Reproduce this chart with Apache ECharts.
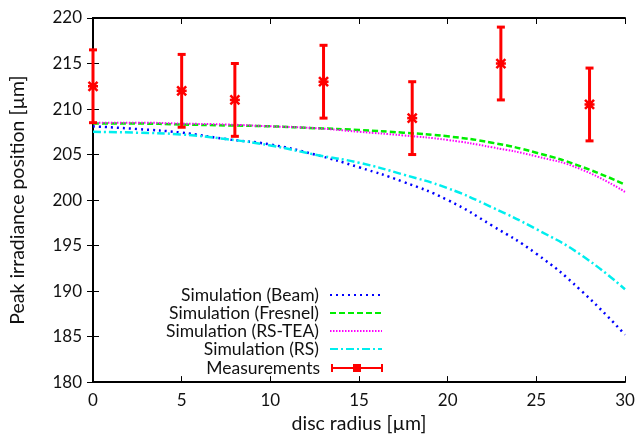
<!DOCTYPE html>
<html>
<head>
<meta charset="utf-8">
<script src="https://cdn.jsdelivr.net/npm/echarts@6/dist/echarts.min.js"></script>
<style>
  html, body { margin: 0; padding: 0; background: #fff; }
  #chart { width: 638px; height: 439px; }
</style>
</head>
<body>
<div id="chart"></div>
<script>
// disc radius samples for the simulation curves
const radius = [0, 2.5, 5, 7.5, 10, 12.5, 15, 17.5, 20, 22.5, 25, 27.5, 30]
const beam = [208.1, 207.8, 207.4, 206.7, 206.1, 205.0, 203.6, 202.0, 200.0, 197.2, 194.1, 190.1, 185.2]
const fresnel = [208.4, 208.4, 208.3, 208.2, 208.1, 207.9, 207.7, 207.4, 207.0, 206.3, 205.2, 203.7, 201.7]
const rsTea = [208.5, 208.5, 208.4, 208.3, 208.1, 207.9, 207.5, 207.1, 206.6, 205.8, 204.8, 203.4, 200.9]
const rs = [207.5, 207.4, 207.2, 206.7, 206.0, 205.0, 204.1, 202.8, 201.3, 199.2, 196.8, 194.0, 190.2]

// measurements with error range
const measX = [0, 5, 8, 13, 18, 23, 28]
const measY = [212.5, 212, 211, 213, 209, 215, 210.5]
const measLo = [208.5, 208, 207, 209, 205, 211, 206.5]
const measHi = [216.5, 216, 215, 217, 213, 219, 214.5]

const names = ['Simulation (Beam)', 'Simulation (Fresnel)', 'Simulation (RS-TEA)', 'Simulation (RS)', 'Measurements']

const pair = (ys) => radius.map((x, i) => [x, ys[i]])
const font = 'Lato'

const chart = echarts.init(document.getElementById('chart'))

function lineSeries(name, data, color, dash, width) {
  return {
    name: name,
    type: 'line',
    data: pair(data),
    smooth: true,
    symbol: 'none',
    lineStyle: { color: color, width: width, type: dash },
    itemStyle: { color: color },
    z: 3
  }
}

function legend(name, top, icon) {
  const l = {
    data: [icon ? { name: name, icon: icon } : name],
    orient: 'vertical',
    right: 250,
    top: top,
    align: 'right',
    itemWidth: 52,
    itemHeight: 12,
    itemGap: 0,
    textStyle: { fontFamily: font, fontSize: 17.5, color: '#111', padding: [0, 6, 0, 0] },
    selectedMode: false
  }
  if (!icon) l.itemStyle = { opacity: 0 }
  return l
}

const errIcon = 'path://M0,2h2v3h48v-3h2v8h-2v-3h-48v3h-2z M22,2h8v8h-8z'

const axisCommon = {
  min: 0, max: 30, interval: 5,
  axisLine: { lineStyle: { color: '#000', width: 2 } },
  axisTick: { inside: true, length: 6, lineStyle: { color: '#000', width: 1 } },
  splitLine: { show: false }
}

chart.setOption({
  animation: false,
  backgroundColor: '#fff',
  grid: { left: 93, right: 13, top: 18, bottom: 56 },
  legend: [
    legend(names[0], 281),
    legend(names[1], 299),
    legend(names[2], 317),
    legend(names[3], 335),
    legend(names[4], 354, errIcon)
  ],
  xAxis: [
    Object.assign({}, axisCommon, {
      type: 'value',
      name: 'disc radius [µm]',
      nameLocation: 'middle',
      nameGap: 30,
      nameTextStyle: { fontFamily: font, fontSize: 19.5, color: '#111' },
      axisLabel: { fontFamily: font, fontSize: 17, color: '#111', margin: 10 }
    }),
    Object.assign({}, axisCommon, {
      type: 'value',
      position: 'top',
      axisLabel: { show: false }
    })
  ],
  yAxis: [
    {
      type: 'value',
      min: 180, max: 220, interval: 5,
      name: 'Peak irradiance position [µm]',
      nameLocation: 'middle',
      nameGap: 65,
      nameTextStyle: { fontFamily: font, fontSize: 19.5, color: '#111' },
      axisLine: { show: true, lineStyle: { color: '#000', width: 2 } },
      axisTick: { show: true, inside: true, length: 6, lineStyle: { color: '#000', width: 1 } },
      axisLabel: { fontFamily: font, fontSize: 17, color: '#111', margin: 11 },
      splitLine: { show: false }
    },
    {
      type: 'value',
      min: 180, max: 220, interval: 5,
      position: 'right',
      axisLine: { show: true, lineStyle: { color: '#000', width: 2 } },
      axisTick: { show: true, inside: true, length: 6, lineStyle: { color: '#000', width: 1 } },
      axisLabel: { show: false },
      splitLine: { show: false }
    }
  ],
  series: [
    lineSeries(names[0], beam, '#0000ff', [2, 4], 2.5),
    lineSeries(names[1], fresnel, '#00ee00', [6, 3], 2.5),
    lineSeries(names[2], rsTea, '#ff00ff', [1.5, 1.5], 2),
    lineSeries(names[3], rs, '#00eeee', [8, 3, 2, 3], 2.5),
    {
      name: names[4],
      type: 'custom',
      itemStyle: { color: '#ff0000' },
      data: measX.map((x, i) => [x, measY[i], measLo[i], measHi[i]]),
      encode: { x: 0, y: [1, 2, 3] },
      z: 5,
      clip: false,
      renderItem: function (params, api) {
        const x = api.value(0)
        const c = api.coord([x, api.value(1)])
        const lo = api.coord([x, api.value(2)])
        const hi = api.coord([x, api.value(3)])
        const cap = 4
        const style = { stroke: '#ff0000', lineWidth: 3, fill: 'none' }
        const mark = { stroke: '#ff0000', lineWidth: 2.5 }
        return {
          type: 'group',
          children: [
            { type: 'line', shape: { x1: lo[0], y1: lo[1], x2: hi[0], y2: hi[1] }, style: style },
            { type: 'line', shape: { x1: lo[0] - cap, y1: lo[1], x2: lo[0] + cap, y2: lo[1] }, style: style },
            { type: 'line', shape: { x1: hi[0] - cap, y1: hi[1], x2: hi[0] + cap, y2: hi[1] }, style: style },
            { type: 'rect', shape: { x: c[0] - 3, y: c[1] - 3, width: 6, height: 6 }, style: { fill: '#ff0000' } },
            { type: 'line', shape: { x1: c[0] - 4.5, y1: c[1] - 4.5, x2: c[0] + 4.5, y2: c[1] + 4.5 }, style: mark },
            { type: 'line', shape: { x1: c[0] - 4.5, y1: c[1] + 4.5, x2: c[0] + 4.5, y2: c[1] - 4.5 }, style: mark },
            { type: 'line', shape: { x1: c[0] - 5, y1: c[1], x2: c[0] + 5, y2: c[1] }, style: mark }
          ]
        }
      }
    }
  ]
})
</script>
</body>
</html>
